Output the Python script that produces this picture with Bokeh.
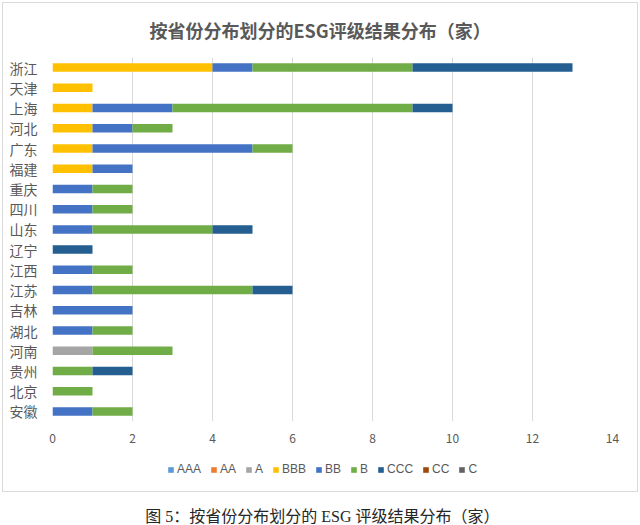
from bokeh.plotting import figure
from bokeh.models import (ColumnDataSource, FactorRange, Range1d, SingleIntervalTicker,
                          Legend, LegendItem, Label)
from bokeh.layouts import column
from bokeh.embed import file_html
from bokeh.resources import INLINE

provinces = ["浙江", "天津", "上海", "河北", "广东", "福建", "重庆", "四川", "山东",
             "辽宁", "江西", "江苏", "吉林", "湖北", "河南", "贵州", "北京", "安徽"]
series_names = ["AAA", "AA", "A", "BBB", "BB", "B", "CCC", "CC", "C"]
AAA = [0, 0, 0, 0, 0, 0, 0, 0, 0, 0, 0, 0, 0, 0, 0, 0, 0, 0]
AA = [0, 0, 0, 0, 0, 0, 0, 0, 0, 0, 0, 0, 0, 0, 0, 0, 0, 0]
A = [0, 0, 0, 0, 0, 0, 0, 0, 0, 0, 0, 0, 0, 0, 1, 0, 0, 0]
BBB = [4, 1, 1, 1, 1, 1, 0, 0, 0, 0, 0, 0, 0, 0, 0, 0, 0, 0]
BB = [1, 0, 2, 1, 4, 1, 1, 1, 1, 0, 1, 1, 2, 1, 0, 0, 0, 1]
B = [4, 0, 6, 1, 1, 0, 1, 1, 3, 0, 1, 4, 0, 1, 2, 1, 1, 1]
CCC = [4, 0, 1, 0, 0, 0, 0, 0, 1, 1, 0, 1, 0, 0, 0, 1, 0, 0]
CC = [0, 0, 0, 0, 0, 0, 0, 0, 0, 0, 0, 0, 0, 0, 0, 0, 0, 0]
C = [0, 0, 0, 0, 0, 0, 0, 0, 0, 0, 0, 0, 0, 0, 0, 0, 0, 0]
colors = ["#5B9BD5", "#ED7D31", "#A5A5A5", "#FFC000", "#4472C4", "#70AD47", "#255E91", "#9E480E", "#636363"]

title_text = "按省份分布划分的ESG评级结果分布（家）"
caption_text = "图 5：按省份分布划分的 ESG 评级结果分布（家）"

source = ColumnDataSource(dict(province=provinces, AAA=AAA, AA=AA, A=A, BBB=BBB, BB=BB,
                               B=B, CCC=CCC, CC=CC, C=C))

# main chart
p = figure(frame_width=560, frame_height=364, output_backend="svg", toolbar_location=None,
           y_range=FactorRange(factors=list(reversed(provinces))),
           x_range=Range1d(0, 14),
           min_border_left=52, min_border_right=28, min_border_top=56, min_border_bottom=30)
p.border_fill_color = None
p.background_fill_color = None

p.title.text = title_text
p.title.align = "left"
p.title.offset = 97
p.title.standoff = 29
p.title.text_font_size = "18px"
p.title.text_font_style = "bold"
p.title.text_color = "#595959"
p.title.text_font = "Noto Sans CJK SC"

p.hbar_stack(series_names, y="province", height=0.42, fill_color=colors,
             line_color=None, source=source)

p.xaxis.ticker = SingleIntervalTicker(interval=2, num_minor_ticks=0)
for ax in (p.xaxis, p.yaxis):
    ax.axis_line_color = None
    ax.major_tick_line_color = None
    ax.minor_tick_line_color = None
    ax.major_label_text_color = "#595959"
    ax.major_label_text_font = "Noto Sans CJK SC"
p.xaxis.major_label_text_font_size = "12px"
p.xaxis.major_label_standoff = 6
p.yaxis.major_label_text_font_size = "14px"
p.yaxis.major_label_standoff = 9

p.ygrid.grid_line_color = None
p.xgrid.grid_line_color = "#D9D9D9"
p.outline_line_color = None

# legend strip: hidden copies of the series supply the legend swatches
lf = figure(width=640, height=43, output_backend="svg", toolbar_location=None,
            x_range=Range1d(0, 14), y_range=FactorRange(factors=list(reversed(provinces))),
            min_border=0, x_axis_location=None, y_axis_location=None)
lf.border_fill_color = None
lf.background_fill_color = None
lf.grid.grid_line_color = None
lf.outline_line_color = None
legend_renderers = lf.hbar_stack(series_names, y="province", height=0.42, fill_color=colors,
                                 line_color=None, source=source, visible=False)
lg = Legend(items=[LegendItem(label=n, renderers=[r]) for n, r in zip(series_names, legend_renderers)])
lg.orientation = "horizontal"
lg.location = (115, 17)
lg.glyph_width = 7
lg.glyph_height = 7
lg.label_standoff = 3
lg.label_width = 0
lg.label_height = 16
lg.spacing = 9
lg.padding = 0
lg.margin = 0
lg.border_line_color = None
lg.background_fill_alpha = 0
lg.label_text_font_size = "12px"
lg.label_text_font = "Liberation Sans"
lg.label_text_color = "#595959"
lf.add_layout(lg)

# caption strip
cap = figure(width=640, height=32, output_backend="svg", toolbar_location=None,
             x_range=Range1d(0, 1), y_range=Range1d(0, 1),
             min_border=0, x_axis_location=None, y_axis_location=None)
cap.grid.grid_line_color = None
cap.outline_line_color = None
cap.add_layout(Label(x=0.503, y=0.31, text=caption_text,
                     text_align="center", text_baseline="middle", text_font_size="16px",
                     text_color="#262626", text_font="Liberation Serif, Noto Sans CJK SC"))

boxed = column(p, lf, spacing=0, styles={"outline": "1px solid #D9D9D9", "outline-offset": "-3px"})
layout = column(boxed, cap, spacing=0)
open("out.html", "w").write(file_html(layout, INLINE))
